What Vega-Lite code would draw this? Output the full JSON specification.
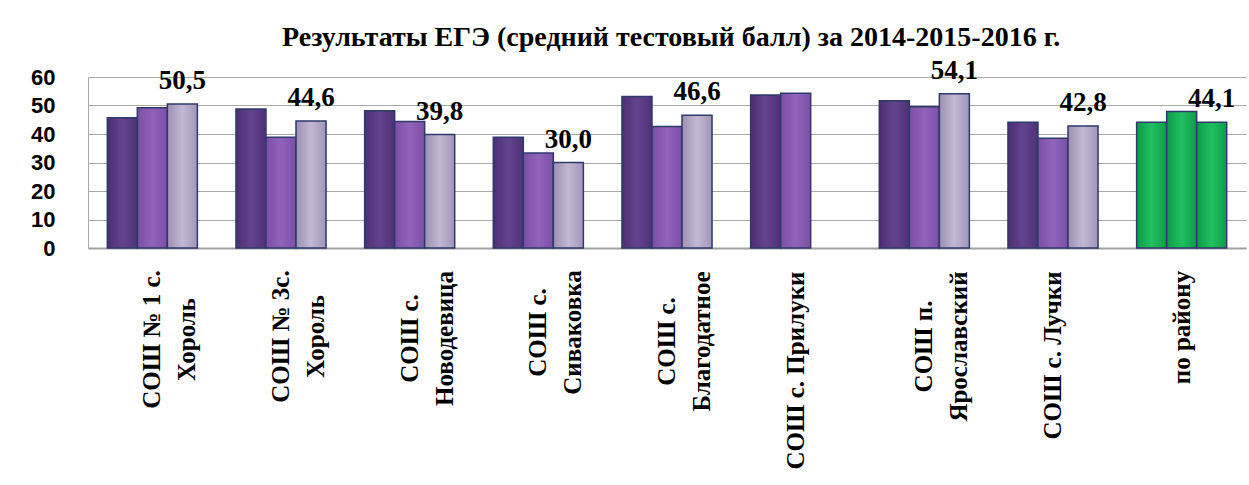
{
  "$schema": "https://vega.github.io/schema/vega-lite/v6.json",
  "autosize": {"type": "none"},
  "width": 1158,
  "height": 171,
  "padding": {"left": 88, "top": 77, "right": 3, "bottom": 237},
  "background": "white",
  "config": {
    "locale": {"number": {"decimal": ",", "thousands": " ", "grouping": [3], "currency": ["", ""]}},
    "view": {"stroke": null}
  },
  "title": {
    "text": "Результаты ЕГЭ (средний  тестовый балл) за 2014-2015-2016 г.",
    "font": "Liberation Serif",
    "fontSize": 28,
    "fontWeight": "bold",
    "color": "black",
    "anchor": "start",
    "frame": "group",
    "dx": 194,
    "offset": 5
  },
  "data": {
    "values": [
      {"school": "СОШ № 1 с.\nХороль", "year": "2014", "score": 45.7},
      {"school": "СОШ № 1 с.\nХороль", "year": "2015", "score": 49.2},
      {"school": "СОШ № 1 с.\nХороль", "year": "2016", "score": 50.5},
      {"school": "СОШ № 3с.\nХороль", "year": "2014", "score": 48.8},
      {"school": "СОШ № 3с.\nХороль", "year": "2015", "score": 38.9},
      {"school": "СОШ № 3с.\nХороль", "year": "2016", "score": 44.6},
      {"school": "СОШ с.\nНоводевица", "year": "2014", "score": 48.2},
      {"school": "СОШ с.\nНоводевица", "year": "2015", "score": 44.4},
      {"school": "СОШ с.\nНоводевица", "year": "2016", "score": 39.8},
      {"school": "СОШ с.\nСиваковка", "year": "2014", "score": 38.9},
      {"school": "СОШ с.\nСиваковка", "year": "2015", "score": 33.3},
      {"school": "СОШ с.\nСиваковка", "year": "2016", "score": 30.0},
      {"school": "СОШ с.\nБлагодатное", "year": "2014", "score": 53.2},
      {"school": "СОШ с.\nБлагодатное", "year": "2015", "score": 42.6},
      {"school": "СОШ с.\nБлагодатное", "year": "2016", "score": 46.6},
      {"school": "СОШ с. Прилуки", "year": "2014", "score": 53.7},
      {"school": "СОШ с. Прилуки", "year": "2015", "score": 54.3},
      {"school": "СОШ п.\nЯрославский", "year": "2014", "score": 51.7},
      {"school": "СОШ п.\nЯрославский", "year": "2015", "score": 49.6},
      {"school": "СОШ п.\nЯрославский", "year": "2016", "score": 54.1},
      {"school": "СОШ с. Лучки", "year": "2014", "score": 44.1},
      {"school": "СОШ с. Лучки", "year": "2015", "score": 38.5},
      {"school": "СОШ с. Лучки", "year": "2016", "score": 42.8},
      {"school": "по району", "year": "2014", "score": 44.1},
      {"school": "по району", "year": "2015", "score": 47.9},
      {"school": "по району", "year": "2016", "score": 44.1}
    ]
  },
  "encoding": {
    "x": {
      "field": "school",
      "type": "nominal",
      "sort": null,
      "scale": {"paddingInner": 0.3, "paddingOuter": 0.15},
      "axis": {
        "title": null,
        "domainColor": "#a0a0a0",
        "domainWidth": 2,
        "ticks": false,
        "labelAngle": -90,
        "labelAlign": "center",
        "labelBaseline": "middle",
        "labelFont": "Liberation Serif",
        "labelFontSize": 25,
        "labelFontWeight": "bold",
        "labelColor": "black",
        "labelLineHeight": 35,
        "labelLimit": 0,
        "labelOverlap": false,
        "labelExpr": "split(datum.label, '\\n')",
        "labelPadding": {
          "condition": [
            {"test": "indexof(datum.value, '№ 1') >= 0", "value": 91},
            {"test": "indexof(datum.value, '3с') >= 0", "value": 88},
            {"test": "indexof(datum.value, 'Новодев') >= 0", "value": 90},
            {"test": "indexof(datum.value, 'Сивак') >= 0", "value": 84},
            {"test": "indexof(datum.value, 'Благод') >= 0", "value": 93},
            {"test": "indexof(datum.value, 'Прилуки') >= 0", "value": 122},
            {"test": "indexof(datum.value, 'Ярослав') >= 0", "value": 98},
            {"test": "indexof(datum.value, 'Лучки') >= 0", "value": 107}
          ],
          "value": 79
        }
      }
    },
    "xOffset": {"field": "year", "type": "nominal", "scale": {"paddingInner": 0, "paddingOuter": 0}},
    "y": {
      "field": "score",
      "type": "quantitative",
      "scale": {"domain": [0, 60], "nice": false},
      "axis": {
        "title": null,
        "values": [0, 10, 20, 30, 40, 50, 60],
        "grid": true,
        "gridColor": "#a8a8a8",
        "ticks": false,
        "domain": true,
        "domainColor": "#a8a8a8",
        "labelFont": "Liberation Sans",
        "labelFontSize": 22,
        "labelFontWeight": "bold",
        "labelColor": "black",
        "labelPadding": 33
      }
    }
  },
  "layer": [
    {
      "mark": {"type": "bar", "stroke": "#2d3a6a", "strokeWidth": 1.5},
      "encoding": {
        "color": {
          "condition": [
            {"test": "datum.school == 'по району'", "value": {"gradient": "linear", "x1": 0, "x2": 1, "y1": 0, "y2": 0, "stops": [{"offset": 0, "color": "#0b9a46"}, {"offset": 0.5, "color": "#22c061"}, {"offset": 1, "color": "#0c9d48"}]}},
            {"test": "datum.year == '2014'", "value": {"gradient": "linear", "x1": 0, "x2": 1, "y1": 0, "y2": 0, "stops": [{"offset": 0, "color": "#4a2f72"}, {"offset": 0.5, "color": "#64438e"}, {"offset": 1, "color": "#4d3276"}]}},
            {"test": "datum.year == '2015'", "value": {"gradient": "linear", "x1": 0, "x2": 1, "y1": 0, "y2": 0, "stops": [{"offset": 0, "color": "#7a4ea4"}, {"offset": 0.5, "color": "#9164ba"}, {"offset": 1, "color": "#7b4fa6"}]}}
          ],
          "value": {"gradient": "linear", "x1": 0, "x2": 1, "y1": 0, "y2": 0, "stops": [{"offset": 0, "color": "#9d90b4"}, {"offset": 0.5, "color": "#c3b8d3"}, {"offset": 1, "color": "#a295b8"}]}
        }
      }
    },
    {
      "transform": [{"filter": "datum.year == '2016'"}],
      "mark": {"type": "text", "dy": -15, "baseline": "alphabetic", "font": "Liberation Serif", "fontSize": 27, "fontWeight": "bold", "color": "black"},
      "encoding": {"text": {"field": "score", "type": "quantitative", "format": ".1f"}}
    }
  ]
}
